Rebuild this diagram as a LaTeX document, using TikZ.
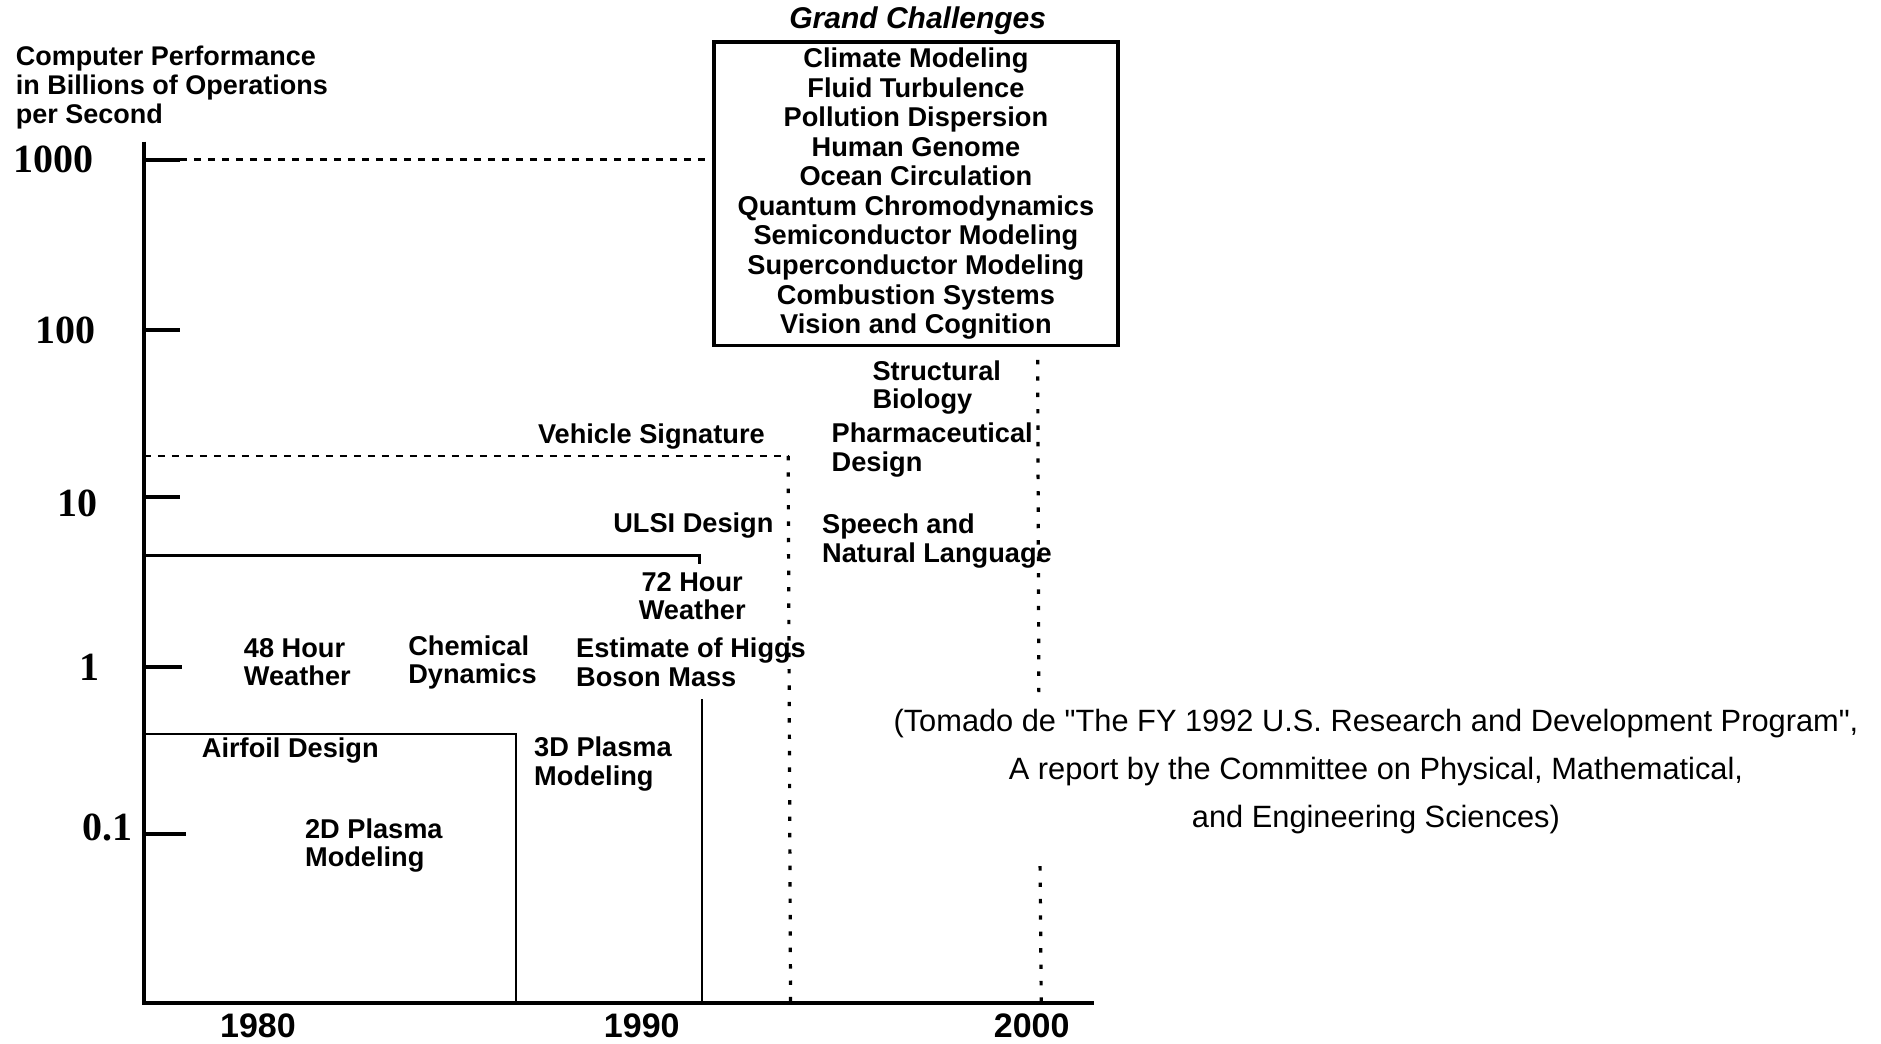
\documentclass[tikz,border=0pt]{standalone}
\usepackage{fontspec}
\setmainfont{Liberation Sans}
\newfontfamily\numfont{Liberation Serif}
\usepackage{tikz}
\usetikzlibrary{calc}

\newcommand{\taskfont}{\fontsize{13.6}{14.2}\selectfont\bfseries}
\newcommand{\gcfont}{\fontsize{13.6}{14.76}\selectfont\bfseries}

\begin{document}
\begin{tikzpicture}[
        x=0.6pt, y=-0.6pt,
        task/.style={font=\taskfont, align=left, inner sep=0pt, anchor=west},
        ctask/.style={font=\taskfont, align=center, inner sep=0pt},
        ynum/.style={font=\fontsize{20}{20}\selectfont\numfont\bfseries, inner sep=0pt},
        year/.style={font=\fontsize{17}{17}\selectfont\bfseries, inner sep=0pt},
        axisline/.style={line width=2.4pt},
        tick/.style={line width=2pt},
        bound/.style={line width=1.2pt},
        dashline/.style={line width=1.2pt, dash pattern=on 3.4pt off 3.6pt},
        dotline/.style={line width=1.6pt, dash pattern=on 2.2pt off 6pt},
        ]
        \useasboundingbox (0,0) rectangle (1568,870);

        % axes
        \coordinate (o) at (120,836);
        \coordinate (ytop) at (120,118);
        \coordinate (xend) at (912,836);
        \draw[axisline] (ytop) -- (o) -- (xend);

        \node (title) at (13,73) [task, font=\fontsize{13.5}{14.4}\selectfont\bfseries]
            {Computer Performance\\in Billions of Operations\\per Second};

        \node (n1000) at (45,133) [ynum] {1000};
        \node (n100) at (55,275) [ynum] {100};
        \node (n10) at (65,420) [ynum] {10};
        \node (n1) at (75,556) [ynum] {1};
        \node (n01) at (90,690) [ynum] {0.1};

        \coordinate (a1000) at (120,133);  \coordinate (t1000) at (150,133);
        \coordinate (a100) at (120,275);   \coordinate (t100) at (150,275);
        \coordinate (a10) at (120,414);    \coordinate (t10) at (150,414);
        \coordinate (a1) at (120,556);     \coordinate (t1) at (152,556);
        \coordinate (a01) at (120,695);    \coordinate (t01) at (155,695);
        \draw[tick] (a1000) -- (t1000);
        \draw[tick] (a100) -- (t100);
        \draw[tick] (a10) -- (t10);
        \draw[tick] (a1) -- (t1);
        \draw[tick] (a01) -- (t01);

        \node (y1980) at (215,855) [year] {1980};
        \node (y1990) at (535,855) [year] {1990};
        \node (y2000) at (860,855) [year] {2000};

        % grand challenges
        \node (gctitle) at (765,17) [inner sep=0pt, font=\fontsize{15}{15}\selectfont\bfseries\itshape] {Grand Challenges};
        \node (grand) at (763.5,161.5) [draw, line width=1.8pt, minimum width=202.2pt, minimum height=151.8pt,
            inner sep=0pt, align=center, font=\gcfont]
            {Climate Modeling\\Fluid Turbulence\\Pollution Dispersion\\Human Genome\\Ocean Circulation\\
             Quantum Chromodynamics\\Semiconductor Modeling\\Superconductor Modeling\\Combustion Systems\\
             Vision and Cognition};
        \draw[dashline] (t1000) -- (t1000 -| grand.west);

        % vehicle signature region
        \coordinate (veh0) at (120,380);
        \coordinate (veh1) at (657,380);
        \coordinate (veh2) at (659,836);
        \draw[dashline] (veh0) -- (veh1);
        \draw[dotline] (veh1) -- (veh2);

        % ULSI region
        \coordinate (ulsi0) at (120,463);
        \coordinate (ulsi1) at (583,463);
        \coordinate (ulsi2) at (583,470);
        \draw[bound] (ulsi0) -- (ulsi1) -- (ulsi2);

        \coordinate (higgs0) at (585,583);
        \coordinate (higgs1) at (585,836);
        \draw[bound] (higgs0) -- (higgs1);

        % airfoil region
        \coordinate (air0) at (120,612);
        \coordinate (air1) at (430,612);
        \coordinate (air2) at (430,836);
        \draw[bound] (air0) -- (air1) -- (air2);

        % grand challenge limit
        \coordinate (gc0) at (865,300);
        \coordinate (gc1) at (866,585);
        \coordinate (gc2) at (867,722);
        \coordinate (gc3) at (868,836);
        \draw[dotline] (gc0) -- (gc1);
        \draw[dotline] (gc2) -- (gc3);

        % applications
        \node (vehicle) at (543,364) [ctask] {Vehicle Signature};
        \node (ulsi) at (578,438) [ctask] {ULSI Design};
        \node (weather72) at (577,497) [ctask] {72 Hour\\Weather};
        \node (higgs) at (480,552) [task] {Estimate of Higgs\\Boson Mass};
        \node (weather48) at (203,552) [task] {48 Hour\\Weather};
        \node (chem) at (340,552) [task] {Chemical\\Dynamics};
        \node (airfoil) at (242,626) [ctask] {Airfoil Design};
        \node (plasma2d) at (254,705) [task] {2D Plasma\\Modeling};
        \node (plasma3d) at (445,637) [task] {3D Plasma\\Modeling};
        \node (struct) at (727,323) [task] {Structural\\Biology};
        \node (pharma) at (693,375) [task] {Pharmaceutical\\Design};
        \node (speech) at (685,451) [task] {Speech and\\Natural Language};

        \node (source) at (1147,643) [inner sep=0pt, align=center, font=\fontsize{15.4}{24}\selectfont]
            {(Tomado de \textquotedbl The FY 1992 U.S. Research and Development Program\textquotedbl,\\
             A report by the Committee on Physical, Mathematical,\\
             and Engineering Sciences)};
    \end{tikzpicture}
\end{document}
